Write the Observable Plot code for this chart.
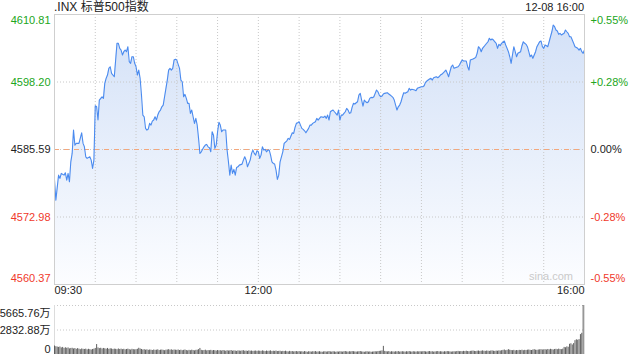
<!DOCTYPE html>
<html>
<head>
<meta charset="utf-8">
<script src="https://cdn.jsdelivr.net/npm/d3@7"></script>
<script src="https://cdn.jsdelivr.net/npm/@observablehq/plot@0.6"></script>
<style>
  html, body { margin: 0; padding: 0; background: #fff; }
  #chart { position: relative; width: 640px; height: 360px; overflow: hidden;
    font-family: "Liberation Sans", Arial, "Noto Sans CJK SC", sans-serif; color: #222; }
  #title { position: absolute; left: 54px; top: 0px; font-size: 12px; line-height: 14px; white-space: nowrap; }
  #date { position: absolute; right: 56px; top: 1px; font-size: 11px; line-height: 13px; white-space: nowrap; }
  #main { position: absolute; left: 0; top: 0; }
  #vol { position: absolute; left: 0; top: 298px; }
</style>
</head>
<body>
<div id="chart">
  <div id="main"></div>
  <div id="vol"></div>
  <div id="title"></div>
  <div id="date"></div>
</div>
<script>
// ---------- data ----------
const titleText = ".INX 标普500指数";
const dateText = "12-08 16:00";
const prevClose = 4585.59;

// minutes after 09:30
const priceMinutes = [0,1,3,4,5,7,8,9,10,11,12,13,14,15,16,18,20,21,22,23,24,26,27,28,29,
30,31,32,33,35,36,37,38,39,40,41,42,44,45,46,47,48,49,50,51,52,53,54,55,56,57,58,59,
60,61,62,63,64,65,66,67,68,69,70,71,72,73,74,75,76,77,78,79,80,81,83,84,85,86,87,88,89,
90,91,92,93,94,95,96,97,98,99,100,101,102,103,104,105,106,107,108,110,111,112,113,114,115,116,117,118,119,
120,121,122,123,124,126,127,128,129,130,131,132,133,134,135,136,138,139,140,141,142,144,145,146,147,148,149,
150,151,152,153,154,155,156,157,158,159,160,161,162,163,164,165,166,167,168,169,171,172,173,174,175,176,177,178,179,
180,181,182,183,184,185,187,188,189,190,192,193,194,195,196,198,199,200,201,202,203,204,205,206,207,208,209,
210,211,212,213,214,215,216,217,218,219,220,221,222,223,224,225,226,227,228,229,230,231,232,233,234,235,236,237,238,239,
240,241,242,243,245,246,247,248,249,250,251,252,253,254,255,256,257,258,260,261,262,263,265,266,267,268,
270,271,272,273,274,276,277,278,279,281,282,283,284,285,287,288,289,290,291,292,293,294,295,297,298,299,
300,301,303,304,305,306,308,309,310,311,312,313,314,315,316,317,319,320,321,322,323,325,326,327,328,329,
331,332,333,334,335,336,337,338,339,340,341,343,344,345,346,347,348,349,350,351,352,353,354,355,357,358,359,
360,361,362,363,364,365,366,367,368,369,370,371,372,373,375,376,377,378,379,380,381,382,383,385,386,387,388,389,390];

const priceValues = [4579.87,4576.13,4580.80,4580.19,4581.12,4580.80,4581.23,4579.87,4581.12,4579.55,4583.29,4584.86,4589.22,4586.41,4586.73,4586.73,4588.71,4586.73,4586.09,4584.23,4583.93,4584.23,4583.61,4582.06,4583.61,
4593.76,4593.57,4591.09,4594.83,4595.44,4595.14,4597.95,4598.88,4599.50,4600.75,4601.05,4599.82,4599.18,4602.30,4605.43,4605.43,4604.49,4604.17,4603.24,4603.86,4604.17,4603.86,4604.79,4601.99,4601.69,4602.92,4602.92,4601.69,
4601.05,4599.50,4600.43,4598.88,4595.76,4592.02,4591.70,4589.53,4589.22,4589.40,4590.47,4590.15,4590.90,4591.09,4591.70,4591.09,4592.02,4592.64,4592.96,4593.57,4593.89,4595.44,4598.56,4600.43,4600.75,4600.43,4600.75,4602.30,4602.43,
4602.30,4601.50,4600.75,4598.56,4598.25,4595.44,4595.89,4595.14,4594.21,4594.21,4592.34,4592.96,4591.70,4590.47,4591.40,4590.15,4587.67,4584.86,4585.16,4586.09,4586.41,4586.54,4586.09,4585.91,4585.16,4588.90,4588.28,4585.80,4586.41,
4588.90,4590.66,4590.15,4588.90,4589.22,4589.22,4585.48,4583.29,4580.80,4582.67,4581.12,4581.87,4580.80,4582.24,4582.36,4582.67,4582.86,4583.61,4584.23,4583.61,4582.36,4583.61,4584.86,4585.48,4584.86,4584.54,4585.35,
4585.16,4583.93,4584.54,4586.09,4585.48,4585.61,4585.16,4585.48,4585.48,4584.54,4583.29,4582.99,4582.86,4581.74,4580.00,4580.80,4583.29,4584.23,4585.16,4586.73,4587.22,4587.67,4587.48,4588.10,4588.71,4588.60,4589.72,4590.47,4590.58,
4590.77,4590.15,4589.53,4589.35,4589.09,4588.71,4589.53,4590.15,4590.15,4590.47,4590.77,4591.40,4591.09,4591.40,4591.70,4591.59,4591.83,4591.40,4592.02,4591.09,4592.64,4592.83,4592.96,4592.64,4592.34,4592.02,4592.96,
4591.09,4592.02,4592.02,4592.34,4592.64,4593.27,4592.96,4592.34,4592.45,4593.46,4594.21,4594.08,4594.32,4594.51,4595.76,4596.08,4594.83,4593.70,4594.83,4594.51,4594.32,4594.51,4595.14,4595.33,4595.26,4595.44,4596.08,4596.69,4596.38,4595.76,
4595.44,4595.57,4595.95,4596.08,4596.19,4595.95,4595.76,4595.57,4595.33,4594.83,4593.89,4592.96,4593.57,4593.89,4594.51,4595.44,4596.19,4596.08,4596.38,4597.01,4596.69,4596.83,4596.69,4596.56,4597.01,4597.12,
4597.31,4597.31,4597.50,4598.13,4598.38,4598.75,4598.88,4598.56,4598.99,4599.18,4598.99,4599.18,4599.50,4599.63,4600.12,4600.43,4599.82,4599.18,4600.12,4601.05,4601.37,4600.75,4600.86,4601.05,4601.37,4601.87,
4602.30,4602.12,4602.12,4601.05,4600.43,4602.30,4602.49,4602.62,4602.81,4603.56,4604.79,4604.49,4603.86,4604.49,4604.79,4605.11,4605.72,4606.36,4606.04,4606.23,4606.04,4605.43,4604.49,4605.24,4604.98,4605.43,
4605.86,4605.11,4604.49,4603.86,4602.92,4601.69,4603.24,4604.79,4603.86,4602.92,4603.56,4603.86,4604.98,4605.72,4605.43,4605.24,4604.79,4603.86,4602.92,4603.24,4602.62,4603.24,4603.86,4604.79,4605.72,4605.86,4604.79,
4604.49,4605.11,4604.98,4604.79,4605.72,4606.66,4607.59,4608.85,4608.53,4607.91,4607.72,4607.11,4607.29,4606.98,4607.29,4607.91,4607.59,4607.29,4606.66,4606.66,4606.04,4605.43,4604.79,4604.49,4604.17,4604.49,4603.86,4603.56,4604.17];

// volume per minute (万), minute 0..389
const volumeValues = [
980,900,860,820,870,760,820,700,780,720,760,650,700,720,640,690,600,680,620,560,640,600,580,620,540,600,560,520,580,620,
700,1150,760,680,720,640,700,660,620,700,600,660,640,580,620,600,560,640,580,620,560,600,540,580,620,560,520,600,560,540,
560,600,720,640,580,520,560,500,540,480,520,500,460,520,480,500,540,460,500,520,480,440,500,520,560,500,540,480,520,500,
480,520,460,500,440,480,520,460,420,480,440,500,460,420,480,500,560,700,480,440,460,500,420,460,440,480,420,460,440,400,
460,420,440,400,460,420,380,440,400,420,460,380,420,400,360,420,400,380,420,440,380,400,360,420,380,400,360,380,400,360,
400,380,360,420,380,340,400,360,380,420,340,380,360,400,340,360,380,320,360,340,380,320,300,360,320,340,300,320,340,300,
340,300,320,280,340,300,260,320,300,280,320,300,340,280,300,320,280,260,300,320,280,300,340,300,280,320,300,260,300,280,
320,300,280,320,340,300,280,320,300,340,320,300,280,300,320,340,300,280,260,300,320,280,300,260,280,300,320,300,340,360,
380,420,940,360,320,300,340,280,320,300,280,320,300,340,280,300,320,300,280,320,300,340,300,280,320,300,280,320,300,320,
300,320,340,300,280,320,340,300,320,280,300,320,340,300,320,300,280,320,300,340,320,300,280,300,320,300,340,360,320,340,
320,360,340,380,340,320,360,380,400,360,340,380,400,360,380,420,380,360,400,380,360,400,420,380,360,400,380,420,400,440,
480,520,440,480,560,500,460,440,480,420,460,440,480,460,500,440,480,460,500,520,480,460,520,560,500,480,520,540,560,520,
540,560,520,580,540,600,560,520,580,600,560,620,580,560,620,820,780,880,840,1180,1240,1100,1260,1600,1700,1650,1720,2300,2450,5665.76];

const yTickValues = [4610.81, 4598.20, 4585.59, 4572.98, 4560.37];
const yTickLabels = ["4610.81", "4598.20", "4585.59", "4572.98", "4560.37"];
const pctLabels = ["+0.55%", "+0.28%", "0.00%", "-0.28%", "-0.55%"];
const gridMinutes = [30, 60, 90, 120, 150, 180, 210, 240, 270, 300, 330, 360];
const xLabelMinutes = [0, 150, 390];
const xLabels = ["09:30", "12:00", "16:00"];
const volTickValues = [5665.76, 2832.88, 0];
const volTickLabels = ["5665.76万", "2832.88万", "0"];
const watermark = "sina.com";

// ---------- build ----------
const FONT = '"Liberation Sans", Arial, "Noto Sans CJK SC", sans-serif';
const GREEN = "#21a621", RED = "#f0392b", BLACK = "#222";
const colorOf = v => v > prevClose + 1e-6 ? GREEN : (v < prevClose - 1e-6 ? RED : BLACK);

const prices = priceMinutes.map((m, i) => ({m, p: priceValues[i]}));
const vols = volumeValues.map((v, i) => ({m: i, v}));
const yTicks = yTickValues.map((v, i) => ({v, label: yTickLabels[i], pct: pctLabels[i], i}));
const xTicks = xLabelMinutes.map((m, i) => ({m, label: xLabels[i], i}));
const vTicks = volTickValues.map((v, i) => ({v, label: volTickLabels[i], i}));
const yMin = yTickValues[yTickValues.length - 1], yMax = yTickValues[0];
const nLast = yTicks.length - 1;

document.getElementById("title").textContent = titleText;
document.getElementById("date").textContent = dateText;

const gradientDefs = () => {
  const ns = "http://www.w3.org/2000/svg";
  const defs = document.createElementNS(ns, "defs");
  defs.innerHTML = `<linearGradient id="areaGrad" gradientUnits="userSpaceOnUse" x1="0" y1="14" x2="0" y2="284">
      <stop offset="0" stop-color="#d2e0f7"/>
      <stop offset="1" stop-color="#fcfdff"/>
    </linearGradient>`;
  return defs;
};

const dotted = {stroke: "#c8c8c8", strokeDasharray: "1,2", strokeWidth: 1};
const txt = {fontSize: 11, fontFamily: FONT};

const main = Plot.plot({
  width: 640, height: 298,
  marginLeft: 54, marginRight: 56, marginTop: 14, marginBottom: 14,
  x: {domain: [0, 390], axis: null},
  y: {domain: [yMin, yMax], axis: null},
  style: {fontFamily: FONT, fontSize: "11px", background: "transparent", overflow: "visible"},
  marks: [
    gradientDefs,
    Plot.areaY(prices, {x: "m", y1: () => yMin, y2: "p", fill: "url(#areaGrad)"}),
    Plot.ruleX(gridMinutes, {...dotted}),
    Plot.ruleY(yTickValues.slice(1, -1), {...dotted}),
    Plot.ruleY([prevClose], {stroke: "#f3a77c", strokeDasharray: "5,5", strokeWidth: 1}),
    Plot.lineY(prices, {x: "m", y: "p", stroke: "#4b8bef", strokeWidth: 1.1}),
    Plot.frame({stroke: "#cfcfcf"}),
    // left labels
    Plot.text(yTicks, {filter: d => d.i === 0, y: "v", text: "label", frameAnchor: "left", textAnchor: "end", dx: -4, dy: 5.5, fill: d => colorOf(d.v), ...txt}),
    Plot.text(yTicks, {filter: d => d.i > 0 && d.i < nLast, y: "v", text: "label", frameAnchor: "left", textAnchor: "end", dx: -4, fill: d => colorOf(d.v), ...txt}),
    Plot.text(yTicks, {filter: d => d.i === nLast, y: "v", text: "label", frameAnchor: "left", textAnchor: "end", dx: -4, dy: -6, fill: d => colorOf(d.v), ...txt}),
    // right labels
    Plot.text(yTicks, {filter: d => d.i === 0, y: "v", text: "pct", frameAnchor: "right", textAnchor: "start", dx: 6, dy: 5.5, fill: d => colorOf(d.v), ...txt}),
    Plot.text(yTicks, {filter: d => d.i > 0 && d.i < nLast, y: "v", text: "pct", frameAnchor: "right", textAnchor: "start", dx: 6, fill: d => colorOf(d.v), ...txt}),
    Plot.text(yTicks, {filter: d => d.i === nLast, y: "v", text: "pct", frameAnchor: "right", textAnchor: "start", dx: 6, dy: -6, fill: d => colorOf(d.v), ...txt}),
    // x labels
    Plot.text(xTicks, {filter: d => d.i === 0, x: "m", text: "label", frameAnchor: "bottom", textAnchor: "start", dy: 9, fill: BLACK, ...txt}),
    Plot.text(xTicks, {filter: d => d.i === 1, x: "m", text: "label", frameAnchor: "bottom", textAnchor: "middle", dy: 9, fill: BLACK, ...txt}),
    Plot.text(xTicks, {filter: d => d.i === 2, x: "m", text: "label", frameAnchor: "bottom", textAnchor: "end", dy: 9, fill: BLACK, ...txt}),
    // watermark
    Plot.text([watermark], {text: d => d, frameAnchor: "bottom-right", textAnchor: "end", dx: -11.5, dy: -5, fill: "#cacaca", ...txt})
  ]
});
document.getElementById("main").appendChild(main);

const vol = Plot.plot({
  width: 640, height: 62,
  marginLeft: 54, marginRight: 56, marginTop: 7, marginBottom: 6,
  x: {domain: [0, 390], axis: null},
  y: {domain: [0, volTickValues[0]], axis: null},
  style: {fontFamily: FONT, fontSize: "11px", background: "transparent", overflow: "visible"},
  marks: [
    Plot.ruleY(volTickValues.slice(0, 2), {...dotted}),
    Plot.ruleX([0, 390], {stroke: "#dcdcdc"}),
    Plot.ruleX(vols, {x: "m", y1: () => 0, y2: "v", stroke: "#5e5e5e", strokeWidth: 1}),
    Plot.text(vTicks, {filter: d => d.i === 0, y: "v", text: "label", frameAnchor: "left", textAnchor: "end", dx: -4, dy: 7.5, fill: BLACK, ...txt}),
    Plot.text(vTicks, {filter: d => d.i === 1, y: "v", text: "label", frameAnchor: "left", textAnchor: "end", dx: -4, dy: 0.5, fill: BLACK, ...txt}),
    Plot.text(vTicks, {filter: d => d.i === 2, y: "v", text: "label", frameAnchor: "left", textAnchor: "end", dx: -4, dy: -5, fill: BLACK, ...txt})
  ]
});
document.getElementById("vol").appendChild(vol);
</script>
</body>
</html>
